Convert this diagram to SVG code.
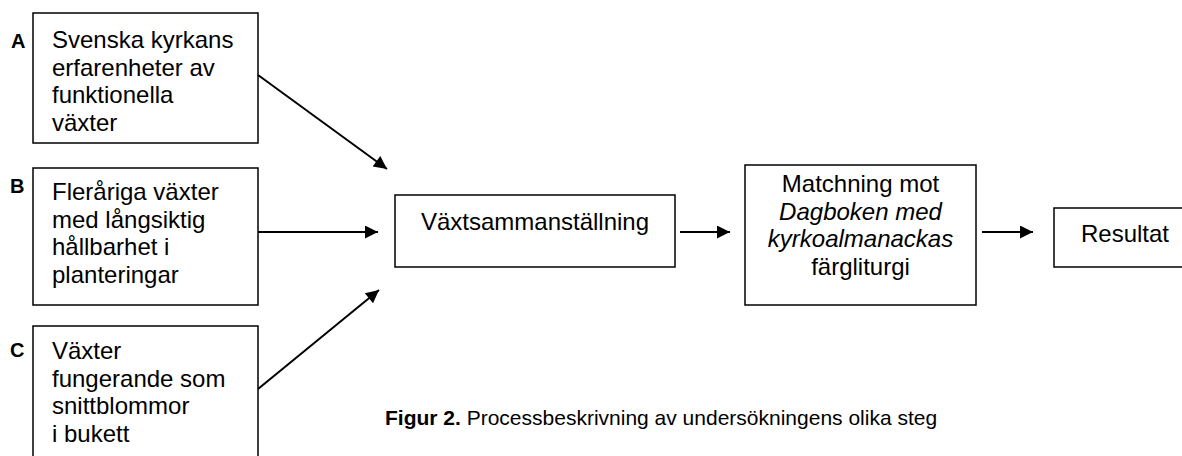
<svg xmlns="http://www.w3.org/2000/svg" width="1182" height="456" viewBox="0 0 1182 456">
<defs>
<style>
.box{fill:#fff;stroke:#000;stroke-width:1.5}
.t{font-family:"Liberation Sans",Arial,sans-serif;font-size:24px;fill:#000}
.c{text-anchor:middle}
.lbl{font-family:"Liberation Sans",Arial,sans-serif;font-size:20px;font-weight:bold;fill:#000}
.cap{font-family:"Liberation Sans",Arial,sans-serif;font-size:21px;fill:#000}
.conn{stroke:#000;stroke-width:2;fill:none;marker-end:url(#ah)}
</style>
<marker id="ah" viewBox="0 0 10 10" refX="10" refY="5" markerWidth="8" markerHeight="6.5" markerUnits="strokeWidth" orient="auto">
<path d="M0,0 L10,5 L0,10 z" fill="#000"/>
</marker>
</defs>
<rect width="1182" height="456" fill="#fff"/>
<g id="nodeA">
<rect class="box" x="33" y="13" width="225" height="130"/>
<text class="lbl" x="11" y="48">A</text>
<text class="t" x="52" y="48">Svenska kyrkans</text>
<text class="t" x="52" y="75.5">erfarenheter av</text>
<text class="t" x="52" y="103">funktionella</text>
<text class="t" x="52" y="130.5">växter</text>
</g>
<g id="nodeB">
<rect class="box" x="33" y="168" width="225" height="137"/>
<text class="lbl" x="10" y="193">B</text>
<text class="t" x="52" y="200">Fleråriga växter</text>
<text class="t" x="52" y="227.5">med långsiktig</text>
<text class="t" x="52" y="255">hållbarhet i</text>
<text class="t" x="52" y="282.5">planteringar</text>
</g>
<g id="nodeC">
<rect class="box" x="33" y="326" width="225" height="140"/>
<text class="lbl" x="10" y="357">C</text>
<text class="t" x="52" y="359">Växter</text>
<text class="t" x="52" y="386.5">fungerande som</text>
<text class="t" x="52" y="414">snittblommor</text>
<text class="t" x="52" y="441.5">i bukett</text>
</g>
<g id="nodeV">
<rect class="box" x="395" y="195" width="280" height="72"/>
<text class="t c" x="535" y="230">Växtsammanställning</text>
</g>
<g id="nodeM">
<rect class="box" x="745" y="165" width="231" height="140"/>
<text class="t c" x="860.5" y="192">Matchning mot</text>
<text class="t c" x="860.5" y="219.5" font-style="italic">Dagboken med</text>
<text class="t c" x="860.5" y="247" font-style="italic">kyrkoalmanackas</text>
<text class="t c" x="860.5" y="274.5">färgliturgi</text>
</g>
<g id="nodeR">
<rect class="box" x="1054" y="208" width="140" height="59"/>
<text class="t c" x="1125" y="242">Resultat</text>
</g>
<g id="connectors">
<line class="conn" x1="258" y1="75" x2="387" y2="169"/>
<line class="conn" x1="258" y1="232" x2="378" y2="232"/>
<line class="conn" x1="258" y1="389" x2="379" y2="290"/>
<line class="conn" x1="680" y1="232" x2="730" y2="232"/>
<line class="conn" x1="982" y1="232" x2="1033" y2="232"/>
</g>
<text class="cap" x="385" y="425"><tspan font-weight="bold">Figur 2.</tspan> Processbeskrivning av undersökningens olika steg</text>
</svg>
